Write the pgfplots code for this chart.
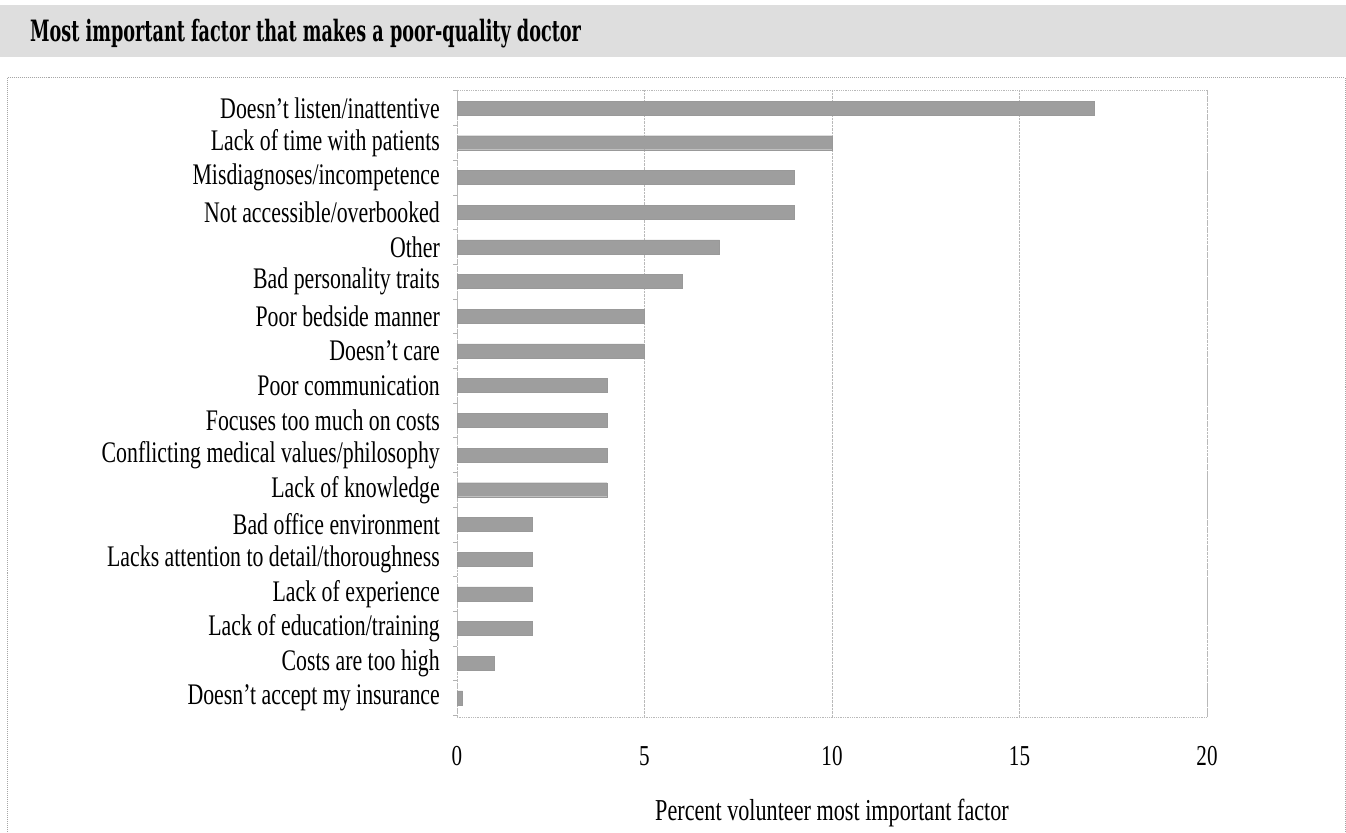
\documentclass[border=0pt]{standalone}
\usepackage{fontspec}
\setmainfont{Liberation Serif}[FakeStretch=0.73]
\newfontfamily\titlefont{DejaVu Serif}[FakeStretch=0.6]
\usepackage{pgfplots}
\pgfplotsset{compat=1.18}
\definecolor{barfill}{RGB}{158,158,158}
\definecolor{bandfill}{RGB}{222,222,222}
\begin{document}
\begin{tikzpicture}[x=1bp,y=1bp]
\useasboundingbox (0,0) rectangle (1346,832);
\begin{scope}
\clip (0,0) rectangle (1346,832);
\fill[bandfill] (0,775) rectangle (1346,827);
\node[anchor=base west, inner sep=0pt] at (30,790) {\titlefont\fontsize{29.5}{32}\selectfont\bfseries Most important factor that makes a poor-quality doctor};
\draw[gray!70, densely dotted, line width=1bp] (7,-10) -- (7,754) -- (1345,754) -- (1345,-10);
\end{scope}
\begin{axis}[
  at={(457bp,115bp)}, anchor=south west,
  width=750bp, height=627bp, scale only axis,
  xbar, bar width=14bp, bar shift=0pt,
  xmin=0, xmax=20,
  ymin=-0.52, ymax=17.55, y dir=reverse,
  xtick={0,5,10,15,20},
  ytick={0,...,17},
  ytick pos=left,
  yticklabels={{Doesn't listen/inattentive},{Lack of time with patients},{Misdiagnoses/incompetence},{Not accessible/overbooked},{Other},{Bad personality traits},{Poor bedside manner},{Doesn't care},{Poor communication},{Focuses too much on costs},{Conflicting medical values/philosophy},{Lack of knowledge},{Bad office environment},{Lacks attention to detail/thoroughness},{Lack of experience},{Lack of education/training},{Costs are too high},{Doesn't accept my insurance}},
  minor ytick={-0.5,0.5,...,17.5},
  major tick length=0pt,
  minor tick length=4bp,
  every minor tick/.style={gray!60, thin},
  tick align=outside,
  xmajorgrids, major grid style={gray!55, densely dotted, line width=0.8bp},
  axis line style={gray!55, densely dotted, line width=0.8bp},
  /pgf/number format/assume math mode=true,
  yticklabel style={anchor=east, inner sep=0pt, xshift=-17bp, font=\fontsize{30}{32}\selectfont},
  xticklabel style={anchor=north, inner sep=0pt, yshift=-29bp, font=\fontsize{29}{32}\selectfont},
  xlabel={Percent volunteer most important factor},
  xlabel style={at={(axis description cs:0.5,0)}, anchor=center, yshift=-96bp, font=\fontsize{30.5}{33}\selectfont},
  clip=false,
]
\addplot[fill=barfill, draw=gray!80, line width=0.4bp] coordinates {
(17,0) (10,1) (9,2) (9,3) (7,4) (6,5) (5,6) (5,7) (4,8) (4,9) (4,10) (4,11) (2,12) (2,13) (2,14) (2,15) (1,16) (0.15,17)
};
\end{axis}
\end{tikzpicture}
\end{document}
